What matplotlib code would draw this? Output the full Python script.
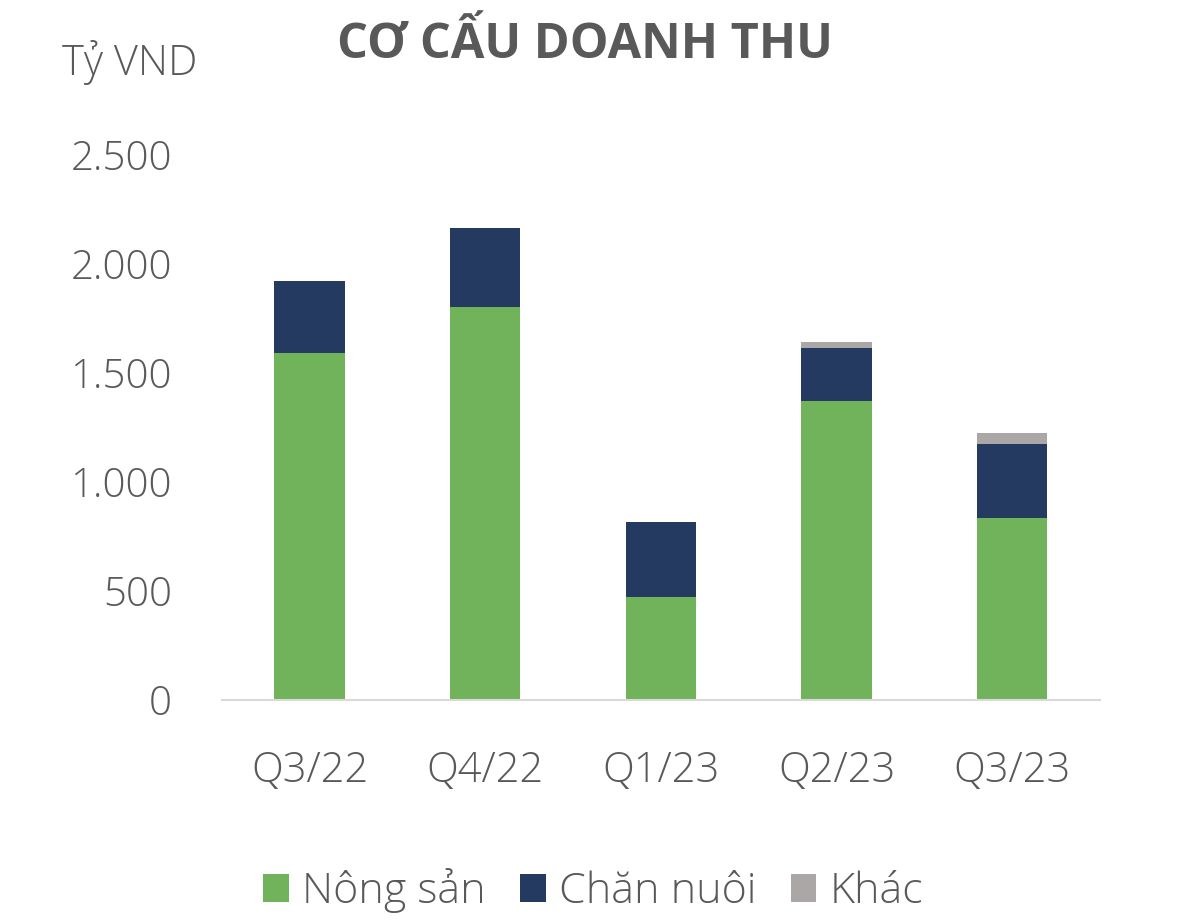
import numpy as np
import matplotlib.pyplot as plt

plt.rcParams['font.family'] = ['Open Sans', 'DejaVu Sans']

quarters = ['Q3/22', 'Q4/22', 'Q1/23', 'Q2/23', 'Q3/23']
nong_san = [1592, 1803, 472, 1372, 835]
chan_nuoi = [330, 362, 345, 243, 339]
khac = [0, 0, 0, 27, 50]

green = '#70B35A'
navy = '#253A60'
grey = '#ABA7A7'
txt = '#595959'

fig = plt.figure(figsize=(11.86, 9.22), dpi=100)
ax = fig.add_axes([0.187, 0.2408, 0.7405, 0.5912])

x = np.arange(len(quarters))
w = 0.4
ax.bar(x, nong_san, w, color=green, label='Nông sản')
ax.bar(x, chan_nuoi, w, bottom=nong_san, color=navy, label='Chăn nuôi')
bottom2 = np.array(nong_san) + np.array(chan_nuoi)
ax.bar(x, khac, w, bottom=bottom2, color=grey, label='Khác')

ax.set_xlim(-0.5, 4.5)
ax.set_ylim(0, 2500)
ax.set_yticks(range(0, 2501, 500))
ax.set_yticklabels(['0', '500', '1.000', '1.500', '2.000', '2.500'])
ax.set_xticks(x)
ax.set_xticklabels(quarters)
for s in ['top', 'right', 'left']:
    ax.spines[s].set_visible(False)
ax.spines['bottom'].set_color('#D9D9D9')
ax.spines['bottom'].set_linewidth(1.5)
ax.tick_params(axis='y', length=0, labelsize=29, labelcolor=txt, pad=36)
ax.tick_params(axis='x', length=0, labelsize=30, labelcolor=txt, pad=36)
for lab in ax.get_xticklabels() + ax.get_yticklabels():
    lab.set_fontweight('light')

fig.text(0.052, 0.932, 'Tỷ VND', fontsize=30, color=txt, fontweight='light',
         ha='left', va='center')
fig.text(0.493, 0.951, 'CƠ CẤU DOANH THU', fontsize=35, color=txt,
         fontweight='bold', ha='center', va='center')

leg = fig.legend(loc='center', bbox_to_anchor=(0.5, 0.034), ncol=3, frameon=False,
                 fontsize=31, handlelength=0.6, handleheight=0.6, handletextpad=0.3,
                 columnspacing=0.8)
for t in leg.get_texts():
    t.set_color(txt)
    t.set_fontweight('light')

fig.savefig('out.png', dpi=100)
